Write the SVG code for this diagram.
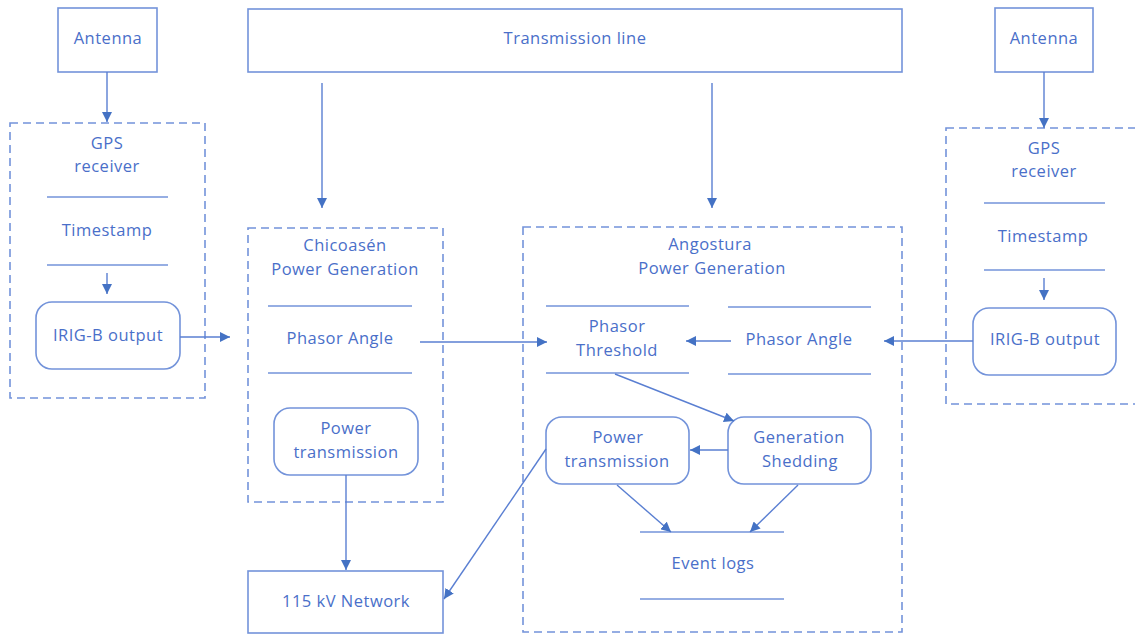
<svg xmlns="http://www.w3.org/2000/svg" width="1135" height="635" viewBox="0 0 1135 635">
  <style>
    .box { fill: #ffffff; stroke: #7393da; stroke-width: 1.6; }
    .dash { fill: none; stroke: #7393da; stroke-width: 1.6; stroke-dasharray: 8 5; }
    .sep { stroke: #7393da; stroke-width: 1.6; fill: none; }
    .conn { stroke: #5a7fd2; stroke-width: 1.4; fill: none; marker-end: url(#arrow); }
    text { font-family: "Open Sans", "Noto Sans", sans-serif; font-size: 16.5px; letter-spacing: 0.5px; fill: #4a6fc9; text-anchor: middle; dominant-baseline: middle; }
  </style>
  <defs>
    <marker id="arrow" viewBox="0 0 10 10" refX="10" refY="5" markerWidth="10" markerHeight="10" markerUnits="userSpaceOnUse" orient="auto">
      <path d="M0,0 L10,5 L0,10 z" fill="#4472c4"/>
    </marker>
  </defs>
  <rect width="1135" height="635" fill="#ffffff"/>

  <!-- Left GPS chain -->
  <g id="antenna-left">
    <rect class="box" x="58" y="8" width="99" height="64"/>
    <text x="108" y="40">Antenna</text>
  </g>
  <g id="gps-left">
    <rect class="dash" x="10" y="123" width="195" height="275"/>
    <text x="107" y="145">GPS</text>
    <text x="107" y="168">receiver</text>
    <line class="sep" x1="47" y1="197" x2="168" y2="197"/>
    <text x="107" y="232">Timestamp</text>
    <line class="sep" x1="47" y1="265" x2="168" y2="265"/>
  </g>
  <g id="irig-left">
    <rect class="box" x="36" y="302" width="144" height="67" rx="16"/>
    <text x="108" y="337">IRIG-B output</text>
  </g>

  <!-- Transmission line -->
  <g id="transmission-line">
    <rect class="box" x="248" y="9" width="654" height="63"/>
    <text x="575" y="40">Transmission line</text>
  </g>

  <!-- Chicoasén plant -->
  <g id="chicoasen">
    <rect class="dash" x="248" y="228" width="195" height="274"/>
    <text x="345" y="247">Chicoasén</text>
    <text x="345" y="271">Power Generation</text>
    <line class="sep" x1="268" y1="306" x2="412" y2="306"/>
    <text x="340" y="340">Phasor Angle</text>
    <line class="sep" x1="268" y1="373" x2="412" y2="373"/>
  </g>
  <g id="chicoasen-power-transmission">
    <rect class="box" x="274" y="408" width="144" height="67" rx="16"/>
    <text x="346" y="430">Power</text>
    <text x="346" y="454">transmission</text>
  </g>
  <g id="network-115kv">
    <rect class="box" x="248" y="571" width="195" height="62"/>
    <text x="346" y="603">115 kV Network</text>
  </g>

  <!-- Angostura plant -->
  <g id="angostura">
    <rect class="dash" x="523" y="227" width="379" height="405"/>
    <text x="710" y="246">Angostura</text>
    <text x="712" y="270">Power Generation</text>
  </g>
  <g id="phasor-threshold">
    <line class="sep" x1="546" y1="306" x2="689" y2="306"/>
    <text x="617" y="328">Phasor</text>
    <text x="617" y="352">Threshold</text>
    <line class="sep" x1="546" y1="373" x2="689" y2="373"/>
  </g>
  <g id="phasor-angle-angostura">
    <line class="sep" x1="728" y1="307" x2="871" y2="307"/>
    <text x="799" y="341">Phasor Angle</text>
    <line class="sep" x1="728" y1="374" x2="871" y2="374"/>
  </g>
  <g id="angostura-power-transmission">
    <rect class="box" x="546" y="417" width="143" height="67" rx="16"/>
    <text x="618" y="439">Power</text>
    <text x="617" y="463">transmission</text>
  </g>
  <g id="generation-shedding">
    <rect class="box" x="728" y="417" width="143" height="67" rx="16"/>
    <text x="799" y="439">Generation</text>
    <text x="800" y="463">Shedding</text>
  </g>
  <g id="event-logs">
    <line class="sep" x1="640" y1="532" x2="784" y2="532"/>
    <text x="713" y="565">Event logs</text>
    <line class="sep" x1="640" y1="599" x2="784" y2="599"/>
  </g>

  <!-- Right GPS chain -->
  <g id="antenna-right">
    <rect class="box" x="995" y="8" width="98" height="64"/>
    <text x="1044" y="40">Antenna</text>
  </g>
  <g id="gps-right">
    <rect class="dash" x="946" y="128" width="200" height="276"/>
    <text x="1044" y="150">GPS</text>
    <text x="1044" y="173">receiver</text>
    <line class="sep" x1="984" y1="203" x2="1105" y2="203"/>
    <text x="1043" y="238">Timestamp</text>
    <line class="sep" x1="984" y1="270" x2="1105" y2="270"/>
  </g>
  <g id="irig-right">
    <rect class="box" x="973" y="308" width="143" height="67" rx="16"/>
    <text x="1045" y="341">IRIG-B output</text>
  </g>

  <!-- Connectors -->
  <g id="connectors">
    <line class="conn" x1="107" y1="72" x2="107" y2="122"/>
    <line class="conn" x1="107" y1="273" x2="107" y2="294"/>
    <line class="conn" x1="180" y1="337" x2="230" y2="337"/>
    <line class="conn" x1="322" y1="83" x2="322" y2="208"/>
    <line class="conn" x1="712" y1="83" x2="712" y2="208"/>
    <line class="conn" x1="420" y1="342" x2="547" y2="342"/>
    <line class="conn" x1="346" y1="475" x2="346" y2="570"/>
    <line class="conn" x1="731" y1="341" x2="686" y2="341"/>
    <line class="conn" x1="973" y1="341" x2="884" y2="341"/>
    <line class="conn" x1="1044" y1="72" x2="1044" y2="128"/>
    <line class="conn" x1="1044" y1="278" x2="1044" y2="300"/>
    <line class="conn" x1="615" y1="374" x2="734" y2="421"/>
    <line class="conn" x1="728" y1="450" x2="690" y2="450"/>
    <line class="conn" x1="617" y1="485" x2="671" y2="532"/>
    <line class="conn" x1="798" y1="485" x2="750" y2="532"/>
    <line class="conn" x1="546" y1="449" x2="444" y2="599"/>
  </g>
</svg>
